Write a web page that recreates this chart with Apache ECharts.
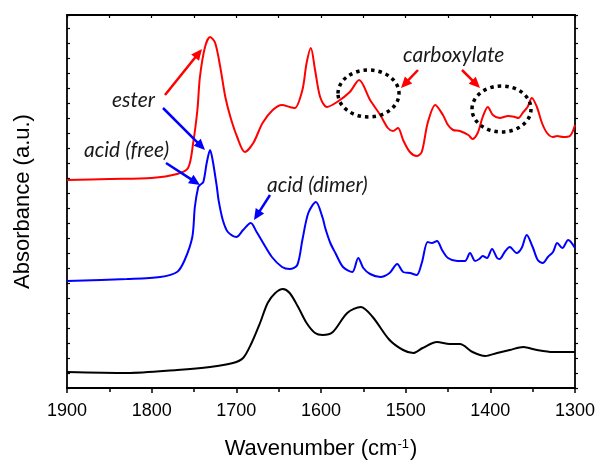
<!DOCTYPE html>
<html>
<head>
<meta charset="utf-8">
<script src="https://cdn.jsdelivr.net/npm/echarts@6/dist/echarts.min.js"></script>
<style>
  html, body { margin: 0; padding: 0; background: #fff; }
  #chart { width: 602px; height: 461px; }
</style>
</head>
<body>
<div id="chart"></div>
<script>
// wavenumber (cm-1) / absorbance (a.u., stacked offsets)
var redWn  = [1900, 1850, 1800, 1770, 1757, 1751, 1746, 1743, 1737, 1731, 1725, 1719, 1713, 1707, 1699, 1690, 1680, 1669, 1657, 1646, 1637, 1631, 1622, 1617, 1612, 1607, 1601, 1593, 1581, 1566, 1555, 1542, 1530, 1521, 1515, 1509, 1503, 1495, 1487, 1481, 1474, 1465, 1456, 1450, 1444, 1436, 1426, 1421, 1415, 1409, 1403, 1397, 1389, 1379, 1371, 1367, 1361, 1356, 1351, 1345, 1339, 1333, 1326, 1321, 1314, 1306, 1300];
var redAbs = [2.08, 2.09, 2.10, 2.14, 2.20, 2.45, 2.78, 3.11, 3.41, 3.51, 3.45, 3.21, 2.91, 2.71, 2.51, 2.36, 2.45, 2.65, 2.78, 2.83, 2.81, 2.80, 2.98, 3.25, 3.40, 3.18, 2.91, 2.81, 2.86, 2.96, 3.08, 2.88, 2.73, 2.60, 2.57, 2.60, 2.48, 2.36, 2.32, 2.36, 2.65, 2.83, 2.73, 2.63, 2.58, 2.57, 2.53, 2.49, 2.55, 2.71, 2.81, 2.73, 2.70, 2.72, 2.71, 2.70, 2.76, 2.81, 2.90, 2.81, 2.65, 2.55, 2.51, 2.52, 2.51, 2.52, 2.63];

var blueWn  = [1900, 1829, 1790, 1770, 1761, 1752, 1749, 1745, 1743, 1739, 1735, 1731, 1728, 1723, 1721, 1716, 1710, 1700, 1692, 1683, 1676, 1669, 1658, 1646, 1637, 1628, 1622, 1615, 1606, 1598, 1595, 1589, 1583, 1574, 1563, 1556, 1550, 1542, 1530, 1519, 1510, 1503, 1495, 1487, 1481, 1474, 1469, 1463, 1457, 1450, 1439, 1430, 1424, 1418, 1413, 1409, 1404, 1398, 1392, 1389, 1383, 1377, 1369, 1363, 1357, 1350, 1344, 1338, 1332, 1326, 1321, 1315, 1308, 1300];
var blueAbs = [1.07, 1.09, 1.11, 1.16, 1.28, 1.51, 1.81, 2.01, 2.03, 2.06, 2.25, 2.38, 2.28, 2.01, 1.88, 1.68, 1.56, 1.51, 1.58, 1.65, 1.56, 1.46, 1.31, 1.21, 1.19, 1.23, 1.48, 1.75, 1.86, 1.70, 1.60, 1.45, 1.35, 1.21, 1.16, 1.30, 1.20, 1.14, 1.11, 1.15, 1.24, 1.16, 1.15, 1.13, 1.25, 1.46, 1.45, 1.47, 1.38, 1.30, 1.27, 1.27, 1.35, 1.27, 1.29, 1.32, 1.30, 1.39, 1.30, 1.29, 1.36, 1.41, 1.35, 1.40, 1.53, 1.41, 1.28, 1.25, 1.31, 1.36, 1.45, 1.40, 1.48, 1.40];

var blackWn  = [1900, 1829, 1770, 1731, 1704, 1692, 1682, 1672, 1663, 1654, 1645, 1637, 1627, 1617, 1607, 1598, 1586, 1569, 1553, 1539, 1519, 1503, 1491, 1480, 1463, 1448, 1436, 1421, 1406, 1392, 1377, 1361, 1345, 1326, 1300];
var blackAbs = [0.16, 0.15, 0.18, 0.21, 0.25, 0.30, 0.45, 0.65, 0.85, 0.95, 0.99, 0.95, 0.81, 0.65, 0.55, 0.53, 0.56, 0.75, 0.81, 0.71, 0.48, 0.38, 0.35, 0.40, 0.46, 0.44, 0.44, 0.36, 0.32, 0.35, 0.38, 0.41, 0.38, 0.36, 0.36];

var xTicks = [1900, 1800, 1700, 1600, 1500, 1400, 1300];

function pairs(xs, ys) {
    var out = [];
    for (var i = 0; i < xs.length; i++) {
        out.push([xs[i], ys[i]]);
    }
    return out;
}

// arrow = shaft + filled head
function arrow(x1, y1, x2, y2, color) {
    var dx = x2 - x1, dy = y2 - y1;
    var len = Math.sqrt(dx * dx + dy * dy);
    var ux = dx / len, uy = dy / len;
    var hl = 11, hw = 5;
    var bx = x2 - ux * hl, by = y2 - uy * hl;
    return [
        {
            type: 'line',
            shape: {x1: x1, y1: y1, x2: bx + ux * 2, y2: by + uy * 2},
            style: {stroke: color, lineWidth: 2.5},
            z: 100
        },
        {
            type: 'polygon',
            shape: {points: [[x2, y2], [bx - uy * hw, by + ux * hw], [bx + uy * hw, by - ux * hw]]},
            style: {fill: color},
            z: 100
        }
    ];
}

function label(text, x, y) {
    return {
        type: 'text',
        x: x,
        y: y,
        style: {
            text: text,
            font: 'italic 21px Lato, "Open Sans", sans-serif',
            fill: '#1a1a1a',
            textVerticalAlign: 'middle'
        },
        z: 100
    };
}

function dotRing(cx, cy, rx, ry) {
    return {
        type: 'ellipse',
        shape: {cx: cx, cy: cy, rx: rx, ry: ry},
        style: {fill: 'none', stroke: '#000', lineWidth: 3.5, lineDash: [3.5, 4]},
        z: 100
    };
}

var chart = echarts.init(document.getElementById('chart'));

var axisFont = '"Liberation Sans", Arial, sans-serif';
var lineStyleAxis = {color: '#000', width: 1.8};

var graphics = [];
graphics.push(label('ester', 112, 100));
graphics.push(label('acid (free)', 84, 150));
graphics.push(label('acid (dimer)', 267, 185));
graphics.push(label('carboxylate', 403, 55));
graphics = graphics.concat(arrow(165, 95, 202, 49, '#ff0000'));
graphics = graphics.concat(arrow(163, 108, 205, 150, '#0000ff'));
graphics = graphics.concat(arrow(166, 163, 200, 185, '#0000ff'));
graphics = graphics.concat(arrow(270, 195, 254, 220, '#0000ff'));
graphics = graphics.concat(arrow(418, 70, 401, 88, '#ff0000'));
graphics = graphics.concat(arrow(462, 70, 480, 88, '#ff0000'));
graphics.push(dotRing(368.5, 93.5, 30.5, 23.5));
graphics.push(dotRing(501.5, 109, 29.5, 23));

var option = {
    animation: false,
    backgroundColor: '#fff',
    grid: {left: 67, right: 27, top: 15, bottom: 73, outerBoundsMode: 'none'},
    xAxis: [
        {
            type: 'value',
            position: 'bottom',
            min: 1300,
            max: 1900,
            interval: 100,
            inverse: true,
            name: 'Wavenumber (cm{sup|-1})',
            nameLocation: 'middle',
            nameGap: 50,
            nameTextStyle: {
                fontFamily: axisFont,
                fontSize: 22,
                color: '#000',
                rich: {
                    sup: {fontFamily: axisFont, fontSize: 13, color: '#000', verticalAlign: 'top', padding: [0, 1, 0, 0]}
                }
            },
            axisLine: {show: true, onZero: false, lineStyle: lineStyleAxis},
            axisTick: {inside: false, length: 5, lineStyle: {color: '#000', width: 1.5}},
            minorTick: {show: true, splitNumber: 2, length: 4, lineStyle: {color: '#000', width: 1.5}},
            axisLabel: {
                margin: 14,
                fontFamily: axisFont,
                fontSize: 18,
                color: '#000',
                formatter: function (v) {
                    return xTicks.indexOf(v) >= 0 ? String(v) : '';
                }
            },
            splitLine: {show: false}
        },
        {
            type: 'value',
            position: 'top',
            min: 1300,
            max: 1900,
            interval: 50,
            inverse: true,
            axisLine: {show: true, onZero: false, lineStyle: lineStyleAxis},
            axisTick: {inside: true, length: 3, lineStyle: {color: '#000', width: 1.2}},
            axisLabel: {show: false},
            splitLine: {show: false}
        }
    ],
    yAxis: [
        {
            type: 'value',
            position: 'left',
            min: 0,
            max: 3.73,
            interval: 0.15,
            name: 'Absorbance (a.u.)',
            nameLocation: 'middle',
            nameGap: 33,
            nameTextStyle: {fontFamily: axisFont, fontSize: 22, color: '#000'},
            axisLine: {show: true, onZero: false, lineStyle: lineStyleAxis},
            axisTick: {show: true, inside: true, length: 3, lineStyle: {color: '#000', width: 1.2}},
            axisLabel: {show: false},
            splitLine: {show: false}
        },
        {
            type: 'value',
            position: 'right',
            min: 0,
            max: 3.73,
            interval: 0.15,
            axisLine: {show: true, onZero: false, lineStyle: lineStyleAxis},
            axisTick: {show: true, inside: false, length: 3, lineStyle: {color: '#000', width: 1.2}},
            axisLabel: {show: false},
            splitLine: {show: false}
        }
    ],
    series: [
        {
            name: 'black',
            type: 'line',
            data: pairs(blackWn, blackAbs),
            smooth: 0.3,
            showSymbol: false,
            lineStyle: {color: '#000', width: 2}
        },
        {
            name: 'blue',
            type: 'line',
            data: pairs(blueWn, blueAbs),
            smooth: 0.3,
            showSymbol: false,
            lineStyle: {color: '#0000ff', width: 2}
        },
        {
            name: 'red',
            type: 'line',
            data: pairs(redWn, redAbs),
            smooth: 0.3,
            showSymbol: false,
            lineStyle: {color: '#ff0000', width: 2}
        }
    ],
    graphic: graphics
};

chart.setOption(option);
</script>
</body>
</html>
